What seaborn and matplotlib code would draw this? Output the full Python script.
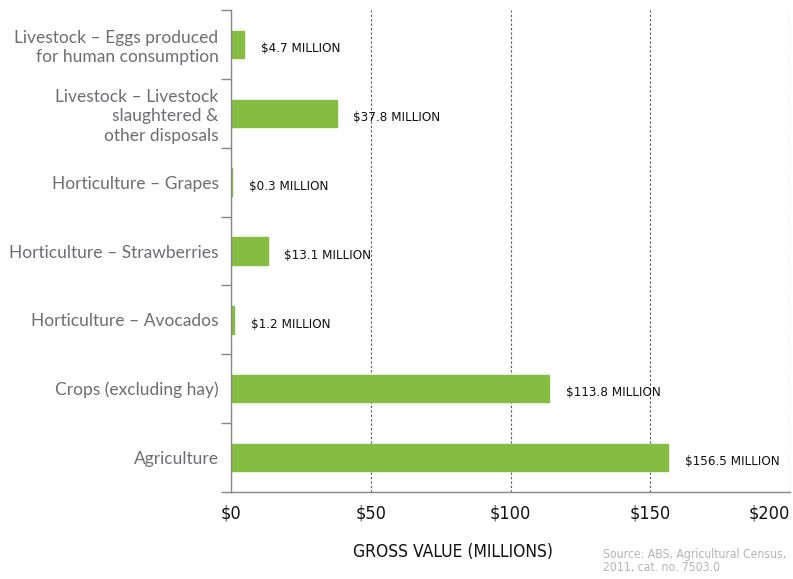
import matplotlib.pyplot as plt
import pandas as pd
import seaborn as sns

categories = [
    "Livestock \u2013 Eggs produced\nfor human consumption",
    "Livestock \u2013 Livestock\nslaughtered &\nother disposals",
    "Horticulture \u2013 Grapes",
    "Horticulture \u2013 Strawberries",
    "Horticulture \u2013 Avocados",
    "Crops (excluding hay)",
    "Agriculture",
]
values = [4.7, 37.8, 0.3, 13.1, 1.2, 113.8, 156.5]
x_ticks = [0, 50, 100, 150, 200]
x_tick_labels = ["$0", "$50", "$100", "$150", "$200"]

df = pd.DataFrame({"category": categories, "value": values})

sns.set_theme(style="white")
plt.rcParams["font.family"] = ["Lato", "DejaVu Sans"]
narrow = dict(family="DejaVu Sans", fontstretch="condensed")

fig = plt.figure(figsize=(7.93, 5.79), dpi=100)
ax = fig.add_axes([231 / 793, 1 - 492 / 579, 559 / 793, 482 / 579])

sns.barplot(data=df, y="category", x="value", orient="h", color="#84bd41",
            width=0.4, saturation=1, edgecolor="#84bd41", linewidth=1, ax=ax)

# value labels to the right of each bar
for i, v in enumerate(values):
    ax.annotate(f"${v} MILLION", xy=(v, i), xytext=(12, -3), textcoords="offset points",
                ha="left", va="center", fontsize=9.6, color="#111111", **narrow)

ax.set_xlim(0, 200)
ax.set_ylim(6.5, -0.5)
ax.set_xticks(x_ticks)
ax.set_xticklabels(x_tick_labels, fontsize=13, color="#111111", **narrow)
ax.get_xticklabels()[-1].set_ha("right")
ax.tick_params(axis="x", length=0, pad=9)
ax.xaxis.grid(True, linestyle=(0, (2, 2)), color="#555555", linewidth=0.8)
ax.set_axisbelow(True)

# category boundaries as ticks on the left spine
ax.set_yticks(range(len(categories)))
ax.set_yticklabels(categories, fontsize=12.5, color="#6d6e71", linespacing=1.25)
ax.set_yticks([i - 0.5 for i in range(len(categories) + 1)], minor=True)
ax.tick_params(axis="y", which="major", length=0, pad=9)
ax.tick_params(axis="y", which="minor", left=True, length=7, color="#888888", width=1)

ax.set_xlabel("")
ax.set_ylabel("")
for side in ["top", "right"]:
    ax.spines[side].set_visible(False)
for side in ["left", "bottom"]:
    ax.spines[side].set_color("#888888")
    ax.spines[side].set_linewidth(1)

fig.text(453 / 793, 1 - 552 / 579, "GROSS VALUE (MILLIONS)", ha="center", va="center",
         fontsize=12.5, color="#111111", **narrow)
fig.text(603 / 793, 1 - 561 / 579, "Source: ABS, Agricultural Census,\n2011, cat. no. 7503.0",
         ha="left", va="center", fontsize=8.7, color="#b5b5b5", linespacing=0.95, **narrow)

fig.savefig("out.png", dpi=100)
